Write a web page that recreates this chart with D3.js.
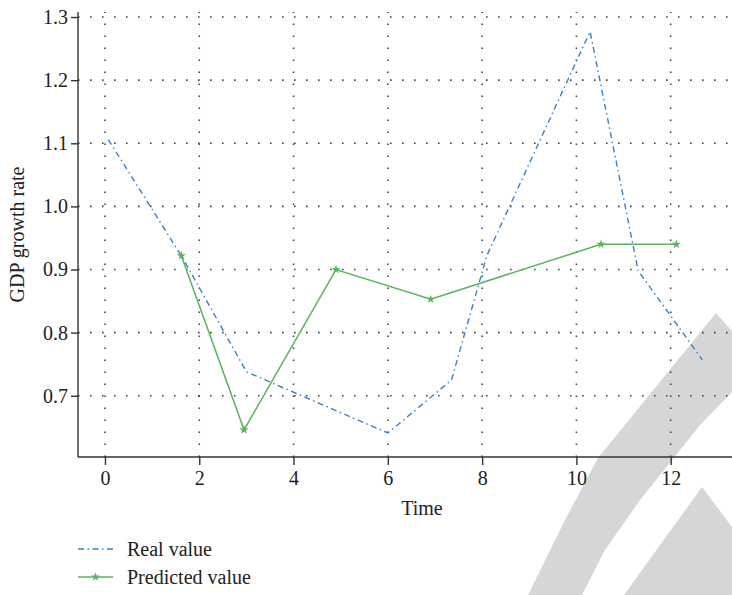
<!DOCTYPE html>
<html>
<head>
<meta charset="utf-8">
<script src="https://cdn.jsdelivr.net/npm/d3@7"></script>
<style>
  body { margin: 0; background: #fff; }
  svg { display: block; }
  text { font-family: "Liberation Serif", "Times New Roman", serif; fill: #222; }
</style>
</head>
<body>
<svg width="732" height="595"></svg>
<script>
// data
const realTime  = [0.07, 1.65, 3.0, 6.0, 7.35, 8.1, 10.29, 11.31, 12.67];
const realValue = [1.106, 0.918, 0.738, 0.641, 0.725, 0.922, 1.277, 0.898, 0.757];
const predTime  = [1.62, 2.95, 4.9, 6.91, 10.52, 12.12];
const predValue = [0.922, 0.646, 0.900, 0.853, 0.940, 0.940];
const xTicks = [0, 2, 4, 6, 8, 10, 12];
const yTicks = [0.7, 0.8, 0.9, 1.0, 1.1, 1.2, 1.3];
const seriesNames = ["Real value", "Predicted value"];

const blue = "#3a80c8", green = "#5cb35c";

var svg = d3.select("svg");
var plotL = 78, plotR = 732, plotT = 12, plotB = 457;

// light grey watermark behind the chart (rough)
var wm = svg.append("g").attr("fill", "#d6d6d6");
wm.append("path").attr("d", "M528,595L565,520L598,458L716,313L732,331L732,392L700,425L640,500L605,550L582,595Z");
wm.append("path").attr("d", "M624,595L702,487L732,527L732,595Z");

var x = d3.scaleLinear().domain([-0.572, 13.3]).range([plotL, plotR]);
var y = d3.scaleLinear().domain([0.603, 1.308]).range([plotB, plotT]);

// grid
var grid = svg.append("g").attr("stroke", "#444").attr("stroke-width", 1.6)
    .attr("stroke-dasharray", "1.6,10.4").attr("fill", "none");
grid.selectAll("line.gx").data(xTicks).enter().append("line")
    .attr("x1", d => x(d)).attr("x2", d => x(d))
    .attr("y1", plotB).attr("y2", plotT);
grid.selectAll("line.gy").data(yTicks).enter().append("line")
    .attr("x1", plotL).attr("x2", plotR)
    .attr("y1", d => y(d)).attr("y2", d => y(d));

// axes
var xAxis = svg.append("g").attr("transform", `translate(0,${plotB})`)
    .call(d3.axisBottom(x).tickValues(xTicks).tickSizeOuter(0).tickSize(8).tickPadding(6).tickFormat(d3.format("d")));
var yAxis = svg.append("g").attr("transform", `translate(${plotL},0)`)
    .call(d3.axisLeft(y).tickValues(yTicks).tickSizeOuter(0).tickSize(7).tickPadding(3).tickFormat(d3.format(".1f")));

[xAxis, yAxis].forEach(a => {
    a.select(".domain").attr("stroke", "#333").attr("stroke-width", 1.4);
    a.selectAll(".tick line").attr("stroke", "#333").attr("stroke-width", 1.4);
    a.selectAll("text").attr("font-size", 20).attr("fill", "#222")
        .style("font-family", '"Liberation Serif", serif');
});
yAxis.select(".domain").attr("d", `M0,${plotT}V${plotB}`);
xAxis.select(".domain").attr("d", `M${plotL},0H${plotR}`);

// axis titles
svg.append("text").attr("x", 422).attr("y", 515)
    .attr("text-anchor", "middle").attr("font-size", 20).text("Time");
svg.append("text").attr("transform", `translate(24,${(plotT + plotB) / 2}) rotate(-90)`)
    .attr("text-anchor", "middle").attr("font-size", 20).text("GDP growth rate");

// lines
var line = d3.line().x(d => x(d[0])).y(d => y(d[1]));
var realPts = realTime.map((t, i) => [t, realValue[i]]);
var predPts = predTime.map((t, i) => [t, predValue[i]]);

svg.append("path").datum(realPts)
    .attr("fill", "none").attr("stroke", blue).attr("stroke-width", 1.4)
    .attr("stroke-dasharray", "6,3.5,1.5,3.5")
    .attr("d", line);

svg.append("path").datum(predPts)
    .attr("fill", "none").attr("stroke", green).attr("stroke-width", 1.5)
    .attr("d", line);

var star = d3.symbol().type(d3.symbolStar).size(26);
svg.selectAll("path.star").data(predPts).enter().append("path")
    .attr("class", "star")
    .attr("transform", d => `translate(${x(d[0])},${y(d[1])})`)
    .attr("fill", green).attr("d", star);

// legend
var legend = svg.append("g");
var ly = [549, 577];
legend.append("line").attr("x1", 78).attr("x2", 113).attr("y1", ly[0]).attr("y2", ly[0])
    .attr("stroke", blue).attr("stroke-width", 1.4).attr("stroke-dasharray", "6,3.5,1.5,3.5");
legend.append("line").attr("x1", 78).attr("x2", 113).attr("y1", ly[1]).attr("y2", ly[1])
    .attr("stroke", green).attr("stroke-width", 1.5);
legend.append("path").attr("transform", `translate(95.5,${ly[1]})`).attr("fill", green).attr("d", star);
legend.selectAll("text").data(seriesNames).enter().append("text")
    .attr("x", 127).attr("y", (d, i) => ly[i] + 7)
    .attr("font-size", 20).text(d => d);
</script>
</body>
</html>
